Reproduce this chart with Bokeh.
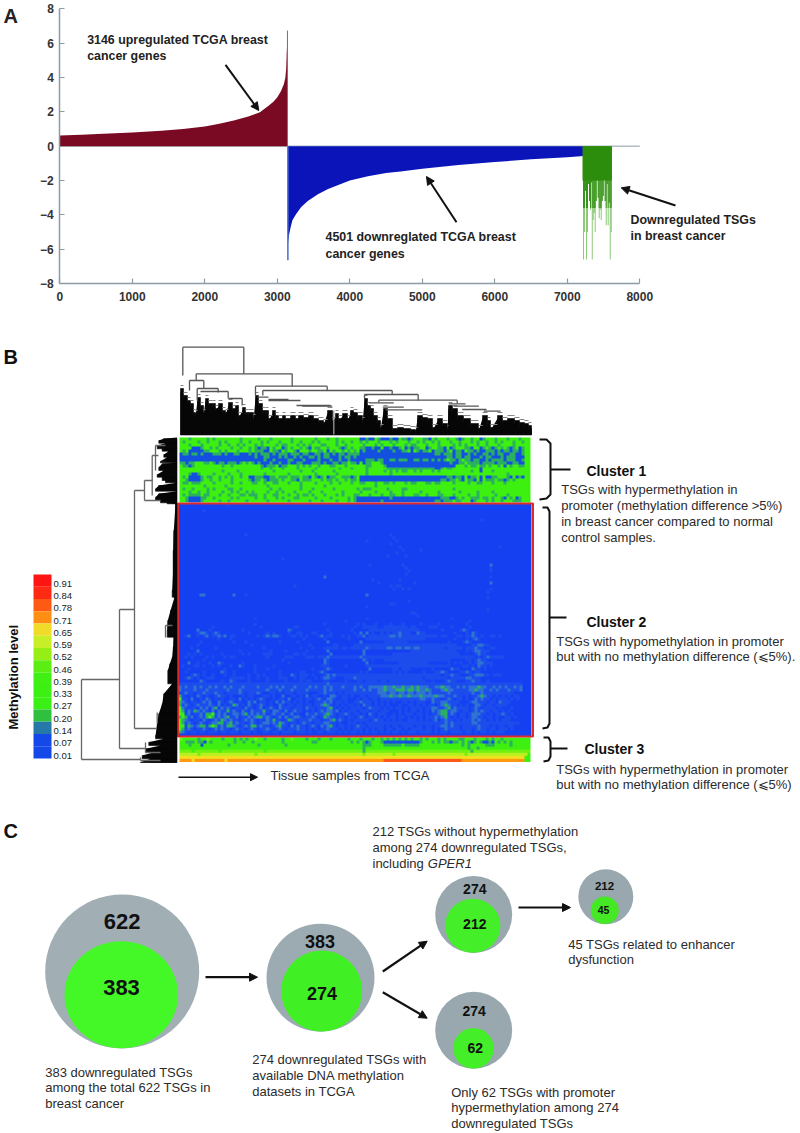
import numpy as np
from bokeh.core.properties import value
from bokeh.embed import file_html
from bokeh.layouts import column
from bokeh.models import Arrow, FixedTicker, LinearColorMapper, NormalHead, Range1d
from bokeh.plotting import figure
from bokeh.resources import INLINE

FONT = "Liberation Sans"
INK = "#2b2b2b"

# ---------- Panel A data ----------
x_ticks = [0, 1000, 2000, 3000, 4000, 5000, 6000, 7000, 8000]
y_ticks = [-8, -6, -4, -2, 0, 2, 4, 6, 8]
up_rank = [0, 300, 600, 1000, 1400, 1700, 2000, 2200, 2400, 2600, 2760, 2880, 2950, 3000, 3050, 3090, 3110, 3122, 3130, 3135, 3140]
up_value = [0.62, 0.67, 0.72, 0.80, 0.90, 1.0, 1.15, 1.30, 1.50, 1.72, 1.98, 2.35, 2.6, 2.85, 3.2, 3.6, 3.95, 4.5, 5.4, 5.9, 6.73]
down_rank = [3146, 3160, 3185, 3210, 3260, 3330, 3420, 3560, 3700, 3850, 4000, 4250, 4500, 4700, 5000, 5500, 6000, 6500, 7000, 7225]
down_value = [-5.7, -5.2, -4.7, -4.3, -3.95, -3.55, -3.2, -2.8, -2.5, -2.25, -2.0, -1.75, -1.57, -1.47, -1.32, -1.1, -0.93, -0.77, -0.64, -0.58]
tsg_rank = [7223, 7237, 7251, 7265, 7279, 7292, 7306, 7320, 7334, 7343, 7357, 7371, 7384, 7398, 7412, 7426, 7439, 7453, 7467, 7481, 7495, 7508, 7522, 7536, 7550, 7563, 7577, 7591, 7605]
tsg_value = [-6.6, -5.0, -2.6, -6.6, -5.0, -2.2, -3.2, -3.7, -2.1, -6.6, -4.3, -3.9, -5.0, -3.2, -2.0, -3.0, -4.2, -3.7, -4.3, -3.2, -2.9, -1.9, -3.2, -4.6, -2.2, -4.6, -3.3, -6.6, -5.0]

# ---------- Panel B data ----------
legend_levels = ["0.91", "0.84", "0.78", "0.71", "0.65", "0.59", "0.52", "0.46", "0.39", "0.33", "0.27", "0.20", "0.14", "0.07", "0.01"]
legend_colors = ["#ff1414", "#ff2a14", "#ff5a14", "#ff8f14", "#f0dc28", "#c8ee28", "#96ee14", "#5cee14", "#40f014", "#3cf014", "#3af014", "#30c040", "#2678a8", "#1448e8", "#1448e8"]

heat_symbols = ".,stbgly Yor"
heat_colors = ["#1440f2", "#1c4cec", "#2f74d0", "#2ab060", "#1450e0", "#3ef010", "#72f010", "#b8f020", "#3ef010", "#f0e020", "#ff9a10", "#ff5818"]

cluster1 = [
"gggtgggggtgtggggggggtgggggtgggtggggggtgggggggtgggtggtgggggggbbtbbgtbbbtbbgttbtgggttbgtgggtggtbtggtggbtgggtgggtgggtg",
"gtggggtggtgggtgtggggtggtgggtgtgggtgggtggtgggtgtgggggtgtggtggtgtgggtgggtgtgggtggtgtggtgtgggtggtgggtgtggtggtgtgggtggt",
"gggtgggtgggggtggtggtgtgggtgtggggtgttgggtgtgtgggttgggtggtgggggtgggtgtgggtgggtgttgggtgggtggggtgtgtgggtggtgggtggggtgg",
"ggggbbbtggtgtggggtggtggtgtbttbgtggbtgtggtgtbgttggtgggtbtgtggttbbtbbgbbtbbtgbtbttggbtggttbgbtgggttbggbtgtbtgtgtbtgbt",
"gtgbbbbbttgggtgtgggtgggtgtttbbgttbgtggtbgggtggttgbgtggtgtgtgbtbbbbtbbbbtbbttgbgtbttgbtttbtgbttbgttbtbbtttbtbttbttbt",
"bttbttbtbbbtttbtbbttbbbtbtbtttbtbtttbtttbttbbttbttbtbttbttttbbbbbbbbbbbbbbbbbbbbbbbbbttbtttbttbbtbtbbttbtbttbbttbbt",
"bbbbbbbbbbbbbbbbbbbbbbbbbtbbttbbbtbtbbtbtbbttbtbttbbbtbttbtbbbbbbbbbbbbbbbbbbbbbbbbbbbbbbttbttbttbbbtbttbbbtbtttbbb",
"bbbbbbbbbbbbbbbbbbbbbbbbbbbbtbbtbbbbttbbbtbbbbtbbbtbbtbbtbbbbbtttbttbbttbtttbbttbttbtbtbtgttbtgttbttbbtbttttbtttbbt",
"ttbttgggttgtbttbtttbtgtgtbtbbbtbbtbbtbbttbbbtttbtbbttbttgttbgbttgggtbbbbbbbbbbbbbbbbbbbbbbtbbttgttttbttttbtttbbttbb",
"gttbtgggggggggtggtgggggggggtbtttgbttgggtgtgtggtgggttgggtggggggttggggtbbbbbbbbbbbbbbbbbbbbbbbgggtgttgttgtggtgbgtggtt",
"gggggggggggggggggggggggggggtggtgggtggggtgggggtgggggggtgggtggggtggggggttttttttttttttttbbtgttgggggggggbgggggggggggggg",
"ggggggggggggggtggggtgggggggggggtggggggggtgggtggggggtggggggggggtgggggtgtgtgttggtgtgggtgtggggggggggtggbgggtgggggggggg",
"gggtbbtggggtggggtgggtgggggggtgggggggtggggggggtggggggtgggggggggtgggggggtggggggggggggggggggggggggggggggggggggggtggggg",
"gtgbbbbtgttggtgtgtggtggbbtttbbttgtttgtttgttbgtbtgbttggtttbtgbbbbbbbbbbbbbbbbbbbbbbbbbbbbbttbttbgbttgbgbbttgggtbgbtbg",
"ggtbbbbtggtggtgggtgggggtbttgtbtttgtggttbgtttgggtgttgtggtgttgbbbbbbbbbbbbbbbbbbbbbbbbbbbttbttgtbgttbgbgtttgttbtgtggg",
"gttgtttggggtgggggtggtgggttggtggttgggtgggtggggtggggtggtgggtggttgggtggttgtgggtgttgggttgttggggtggggtggttgggtgggtgggggg",
"ggggggggtggggggtgggggggggggggtggggggggggtgggggggtggggggggggggggggtggggggggggggggggggggggggggggggggggggggggggggggggg",
"gtggtggggtgtggggttggtgggggggggtggtggggggtgggtggggggtgggggggtgtttgggggtggggttgggggggggggggggtgggggggggggggggggggggg",
"gggtggtggtggggtggtgtggtgtggggtggtgtgggtggggtgggtggggggtgggggtggggtggggtgggtgggggtgggggtggggggtgggggtggggtggggggggg",
"gtgttttgttgggtggtgggttgtttggtggttgggtggtgttgtgggtgggtgtgggttgggtgggtggttggtgggttggtgggttgggtggggtggtgggggtgggtgggg",
"ggtbbbbttggtgggggtgtgggggtggtgggtgtgggttgggggtggggtgggggtgtbbbbbbbbbbbtbbbbbbbbbbbbbbbbtttbbtgtggtttgttgtggtbgtgbtg",
"ggtbbbbtgggggtggtgggggtggggggtggggggtggggggtgggtggggtgggtgtbbbbbbbbtbbbbbbbbbbbbbbbbbttbtttgttgggbtgggtgtggtgggtttg",
]

cluster2_specks = [
(0, 16, ","), (2, 8, ","), (5, 100, ","), (10, 22, ","), (12, 62, ","), (14, 106, ","), (18, 34, ","), (20, 63, ","),
(21, 103, ","), (24, 48, "s"), (27, 38, ","), (28, 103, ","), (29, 102, ","), (30, 7, "s"), (30, 8, "s"), (30, 18, "s"),
(30, 22, ","), (30, 62, "s"), (31, 102, ","), (32, 76, ","), (33, 70, ","), (33, 71, ","), (34, 62, ","), (35, 102, ","),
(36, 77, ","), (36, 78, ","), (37, 79, ","), (38, 25, ","), (38, 62, ","), (38, 90, ","), (39, 55, ","), (39, 96, ","),
(10, 70, ","), (11, 71, ","), (12, 72, ","), (13, 70, ","), (14, 73, ","), (15, 74, ","), (15, 80, ","), (16, 72, ","),
(17, 69, ","), (17, 75, ","), (20, 74, ","), (21, 75, ","), (22, 76, ","), (23, 75, ","), (25, 73, ","), (26, 78, ","),
(25, 64, ","), (26, 66, ","), (27, 70, ","), (27, 72, ","), (27, 73, ","), (28, 71, ","), (28, 74, ","), (28, 76, ","),
(20, 103, "s"), (22, 103, ","), (24, 103, ","), (26, 103, "s"),
]
cluster2_rows = {
40: ".........................,......................,..........,.,...,....,...,.....,.....,........,.....",
41: "...........,...............,..........,,..................,..,,,,,..,,,,,,,,.,,....,,,....,.....,.....",
42: "......s...,..........,..............s,...........,.......,.....,,,,,,,,,,,,,,,,,.......,.....,s,......",
43: "......,ss,.,s,.........,.....,.,....,..,,...,,....,.......,.s.s.,..,.,.,,s,,,..s,,.........,...,.s,.....",
44: "..,s..,.,s.,,s,s.,,.......,.,s,ss,...,,.,.,...,s.,,...,.,..,,s.,,,,,,,ss,s,,,,,,,,,,,,.,,...,,.,,s,.,..,,.,",
45: ".............,...,.......................,......,.......,.....,,,,,,,,,,,,,,,,,,,,.........,...,.,s,.....",
46: ".......,..........,...,..........,.....,.........s..........s.......,,,,,,,,.............,....,s,.......",
47: "......,.................,..................,.......,,.....,,,,,,,,,,,,,,,,,,,,,,,,,,,,,,,,,,.....,,ss,,..",
48: "....,.......,...............,...........,...,...,,,,,.,,.,,,,,s,,,,,,ss,ss,ss,ss,,,,,,,,.,,,,,.,,,s,,..,,",
49: "......s.............,.........,....,......,......s...........s...............,,,,,,,,,,,,,,,...,.,ss,,,.",
50: "...,.,.,......,......,.,....,,,.......,,.,........s..........s.........,,,,,,,,,,,,,,,,,,,,,,.....,s,,...",
51: "..,.,....,.,...,.,,..........,.....,,,....,,,.,,,s,,,,,,,,,,s,,,,,,,,,,,,,,,,,,,,,,,,,,,,,,,,,,,,,.,.,s,,,,,.",
52: "........,.........................,.............s,...........s,.,...,,,,,,,,,,,,,,,,,,,,,,.....,,.,s,,....",
53: "...s..,...,..s,......,..............,...........s,............s..........,,,,,,,,,,......,.,.,..,.,ss,,,..",
54: ".,...,,.,..,.,...,..s,...,.....,...............,,,.....,......,,,,,,,,,,,,,,,,,,,,,,,,,,,,....,,.,.s,,.,.",
55: "...,...........,.........,...,..............,...,s,............s.......,,.,,,.......,.....s,,....s,,.,...",
56: "..,.....,.....s,..,......,.......,......,,....,s,...........,.,........,.,.,.....,...,,s,....,,s,.,,....",
57: "....,s,.,..,...,..,....,..,.,....,...s,.,,,.,...,s,s,,,,,,,,,,,,,,,,,,,,,,,,,,,,,,,,,,,.,,s,,...,,sss,,.,,,.",
58: "..,s,.,..,,,.....,,,,,.,..,..,...,,,..,.,,...,.,ss,,...,,,s,,,,,,,,,,,,,,,,,,,,,,.,,,,,,,.,,,,,ss,,,.....",
59: ".......s,.....,..s,....,.....,.....,....,.,,....,,.....,...,,.,,,,.,,.,,,,,,,,,,,,..,...,s,,...,,s,,..,.",
60: ",,,,,,,,,,,,,,,,,,,,,,,,,,,,,,,,,,,,,,,,,,,,,,,,,s,,,,,,,,,,,,,,,,,,,,,,,,,,,,,,,,,,,,,,,,,,,,,,,,,,,,,,,,,,,,,,,,",
61: "s,s,,s,s,,s,s,,s,s,,,s,,,,s,,,s,s,s,,,s,,,,s,s,,s,s,,,s,,,s,s,,ssssstsstsstsststsss,,sstss,,s,s,ssstss,,s,s,s,,s,s",
62: "s,,,,s,,,s,,,,,,s,,,s,,,,,,,,s,,,s,,,s,,,,s,,,,,s,s,,,,,,,s,,s,s,,sstssstttsttstssts,,,stss,,,,,sstss,,s,s,,,s,,,s",
63: ",,s,,.,,s,,,s,,.,,,,s,.,,,s,..,,.,.,,,.,,,,...,,s,,,.,.,,,,,,,,,,,sss,ss,ss,ss,sss,s,,,,,s,,,,,,,s,,s,,,,,,,,,,.",
64: "t,..,.s,.,..,s,,.,...,.,,...,,.,..s..,,.,.s.,,..,.ss,.,,.,..,,.,,,,ssstsstsstssstsssstss,,,s,,.,.,,sts,,.,.,.,.,,",
65: "g,,.s..,.s,.,.,..,,.s.,.,.,s,..,.,,.s..,,.,,.,s,.ss,..,,...,.,,.,,.,,,,,,,,,,,,,ss,,s,,.,s,.,,.,..s,s,,.,.,,,.,.,",
66: "ts,.,,.,s,s..s,.,s,.,..s,s.,,.,.s.s,,.,.,.,..,,,s,s.,,.,..,,s,,,.,.,.,.,..,,.,.,,,..s,,ss,,,,...,ss,,,.,,.s,,,.",
67: "t,s,.,s,,,s,.s.,.,ts.,.s,.,s,.,..s,.,,.,,.,,.,,sts,.,.,.,,.,.s,,.,.,.,...,..,,.,.,.,,.,sts,,.,.,..ss,.,,.,,,,..",
68: "gs,.,,.s,s.st.s,s,.,,.s,,.,s.,s,.s,,,.,,,.s,,.,,,st,.,.,.,,,,.,s,,,.,.,.,,.,.,,,,.,,ss,,st,s,,,,.,s,.,,,,.,...,",
69: "gt.s,ts,s,.s.s,,t,s,.s,.s,,,t,.ss,.s.,s,,.,.,.,s,ss,s.,.,,,.,,,.,,.,,,...,.,.,,.,.,.s,stt,ss,.,,.,s,s,,.,,.,.,.",
70: "gg,s.,,s,ttg,s,s.,ss,st,s,s,s.,s,,s.,s.,..s,,s,,sts,.,,s,.,,.,.s,.,,,..,.,.,,,.,,.,.,,stt,s,.,,.,sss,,.,.,,s,.,.",
71: "tgt,s.,s,tgt,s,st,,s.,,s,stt,s,.,s.s,,ss,.,,s,.,ts,,.,,.,,.,s,.,,.,.,.,,.,,.,.,.,.,,,s,st,.,.,,.,ss,,.,,.,..,,.,",
72: "gts,.,,.s,.,s,ts,s,,.,s,s,.,.s,t,,.,ts,.,,,s,,,.,,st,s,.,.,,,,,.,s,,.,.,.,..,,,.,.,.,s.,s,,.,.,,,s,s,,.,.,.,,,.",
73: "gt,s,.,s,.,sstt,st,s,,.,s,.,ss,s,ts,.,,.,s,,.,,,ss,,.,..,,,.,.,,,,,,,,,,,,,,,,,,,,,,,,,,s,s,,,,,,ss,,,,,,,,,,,,,,",
74: "gg,ts,stt,tgt,s,tts,.,s,tt,s,,.,st,,.s,s,,.,s,.s,st,.,,.,.,s,,.,,,,,.,.,,.,,,,.,,.,,.,,ss,s,,.,,,,,s,,,.,.,,.,,.",
75: "gt,s,.,,s,.,s,s,,.,s,,.,s,.,,s,.,s,.,,,s,,.,.,.,,s,,,.,.,.,,,.,.,.,,.,,.,,.,.,,,,.,,.,.,s,,,,.,,,.,s,,.,,.,,,.,",
76: "ts,.,,.,,.,,,.,,.,,,.,,,.,..,,.,,.,,,,.,,,.,..,,.,,,.,.,.,,.,.,.,,.,.,.,,.,.,,,.,,,,.,.,,.,,,,.,,.,.,,.,.,,,.",
}
cluster3 = [
"lgggggtgglggggtgggtgtgtgglggtgggggtgglggggtgggtgggtgggggtgggtgggtggtgtgtgtgtgtggtgtgggtgtggggttgggtgggtgtggtgggggg",
"ggtttgttbgtgggggggtggtggtgggggggggtgggggggggttgggggggggggtgtgtbtgggtbbbbbbbbbbbbtgggtgtgttbttgtgtbtgtbbtbgtgtgtgggg",
"gggtgggbggggggggtgggggggggtggggggggtgggggggggggggggggggggggggtttggggttttttgtttttggggggggggggggtgtgggggtttgggggtggggg",
"gggggggggggggggggggggggggggggggggggggggggggggggggggggggggggggtggggggggggggggggggggggggggggggggggtggtggggggggggggggggg",
"llllgllllllllgllllllllllllllglllllllllllllllllllllllllllllllltllllllllllllllllllllllllllllllllllltlllllllllllllllllll",
"yyyyyylyyyyyyyyyyyyyyyyyylyyyyyyyyyyyyyyyyyyyyyyyyyyyyyyyyyyylyyyyyyyyylyyyyyyyyyyyyyyyyyyyyyyylyyyyyyyyyyyyyyyyyyyy",
"YYYYYYYYYYYYYYYYYYYYYYYYYYYYYYYYYYYYYYYYYYYYYYYYYYYYYYYYYYYYYYYYYYYYYYYYYYYYYYYYYYYYYYYYYYYYYYYYYYYYYYYYYYYYYYYYYYY",
"ooooYooooooooooYoooooooooooooooooooooooooooooooooooooooooooooooooooorrrrrrrrrrrrrrrrrrrrrrrrrrooooooooooooooooooooo",
]

top_env_x = [180, 183, 187, 190, 193, 195, 197, 200, 203, 205, 208, 212, 215, 218, 222, 225, 228, 232, 235, 238, 242, 245, 248, 253, 255, 258, 262, 265, 268, 272, 275, 278, 282, 285, 290, 295, 298, 303, 308, 313, 318, 323, 327, 332, 335, 338, 342, 347, 350, 353, 357, 362, 364, 367, 370, 373, 377, 380, 383, 387, 392, 397, 403, 410, 415, 417, 422, 427, 432, 437, 442, 447, 448, 452, 457, 463, 470, 478, 482, 487, 490, 497, 502, 507, 514, 519, 524, 528, 531]
top_env_y = [388, 395, 400, 403, 412, 413, 397, 405, 412, 398, 403, 403, 408, 403, 410, 412, 402, 408, 405, 415, 407, 412, 412, 417, 395, 403, 410, 410, 418, 410, 415, 418, 415, 418, 415, 418, 415, 417, 415, 418, 420, 422, 410, 420, 413, 418, 413, 418, 410, 412, 415, 420, 398, 405, 408, 415, 420, 427, 408, 418, 428, 427, 428, 429, 430, 415, 417, 418, 427, 418, 423, 428, 405, 408, 415, 418, 423, 428, 415, 420, 427, 415, 420, 418, 420, 422, 423, 425, 428]
top_x0 = [182.3, 182.3, 243.3, 195.7, 195.7, 291.7, 189, 189, 203.3, 196.7, 196.7, 217.7, 200, 227.7, 228, 241.7, 255, 255, 326.7, 262.3, 262.3, 391.7, 364, 364, 417.7, 257, 268, 268, 296, 301.7, 378.3, 378.3, 456.7, 369, 382.3, 385, 448.3, 453, 461.7, 483.3]
top_y0 = [346.7, 346.7, 346.7, 373.3, 373.3, 373.3, 380, 380, 380, 388, 388, 388, 391, 391, 398, 398, 385.7, 385.7, 385.7, 390, 390, 390, 394, 394, 394, 396.7, 399, 400, 405, 405.7, 399.7, 399.7, 399.7, 402.3, 406.7, 409.3, 403.3, 405.7, 409, 410.7]
top_x1 = [243.3, 182.3, 243.3, 291.7, 195.7, 291.7, 203.3, 189, 203.3, 217.7, 196.7, 217.7, 227.7, 227.7, 241.7, 241.7, 326.7, 255, 326.7, 391.7, 262.3, 391.7, 417.7, 364, 417.7, 268, 288, 300, 330, 331.7, 456.7, 378.3, 456.7, 393.3, 403.3, 421.7, 465, 478.3, 486, 500]
top_y1 = [346.7, 375, 373.3, 373.3, 380, 385.7, 380, 390, 388, 388, 400, 392, 391, 398, 398, 405, 385.7, 396, 390, 390, 395, 394, 394, 398, 400, 396.7, 399, 400, 405, 405.7, 399.7, 402, 403, 402.3, 406.7, 409.3, 403.3, 405.7, 409, 410.7]

left_env_y = [438.3, 440, 442.7, 445, 448.3, 450.7, 454, 456.7, 460.7, 462.3, 463.3, 466.7, 470, 474, 476.7, 480, 482.3, 485, 488.3, 490.7, 493.3, 496.7, 500, 502.3, 503.3, 530, 550, 570, 590, 596.7, 610, 620, 630, 636.7, 646.7, 656.7, 663.3, 670, 683.3, 693.3, 703.3, 713.3, 723.3, 735, 738.3, 741.7, 745, 748.3, 751.7, 755, 758.3, 761.7]
left_env_x = [163, 158.3, 165, 156.7, 161.7, 168.3, 163.3, 166.7, 160, 176, 161.7, 158.3, 163.3, 156.7, 161.7, 165, 176, 158.3, 155, 176, 158.3, 155, 160, 166.7, 175, 173.3, 172.7, 172.7, 171.7, 174, 170, 167.3, 166.7, 173.3, 172.7, 171.7, 169.3, 167.3, 171.7, 163.3, 161.7, 158.3, 156.7, 155, 163.3, 148.3, 160, 145, 153.3, 141.7, 150, 140]
left_x0 = [81, 81, 81, 119, 119, 119, 134, 134, 134, 144, 144, 144, 151.7, 151.7, 155, 155, 165, 165, 156.7, 145, 145, 140, 140]
left_y0 = [679, 679, 759, 609, 609, 748, 490, 490, 728, 480, 480, 500, 455, 455, 445, 445, 625, 625, 712, 742, 752, 757, 760]
left_x1 = [81, 119, 140, 119, 134, 145, 134, 144, 156, 144, 152, 160, 151.7, 158, 155, 165, 165, 172, 156.7, 145, 160, 140, 160]
left_y1 = [759, 679, 759, 748, 609, 748, 728, 490, 728, 500, 480, 500, 495, 455, 470, 445, 637, 625, 723, 752, 752, 760, 760]

# ---------- Panel C data ----------
outer_counts = [622, 383, 274, 274, 212]
inner_counts = [383, 274, 212, 62, 45]

# Source-figure pixel geometry
PAGE_W = 800
PAGE_H = 1133
SPLIT_AB, SPLIT_BC = 310, 800
A_L, A_R, A_T, A_B = 59.3, 639.3, 8.3, 283.0


def ax(px):
    return (px - A_L) / (A_R - A_L) * 8000


def ay(py):
    return 8 - (py - A_T) / (A_B - A_T) * 16


def arrow(fig, x0, y0, x1, y1, size=8, width=2.0):
    fig.add_layout(Arrow(end=NormalHead(size=size, fill_color="#111111", line_color="#111111"),
                         x_start=x0, y_start=y0, x_end=x1, y_end=y1,
                         line_color="#111111", line_width=width))


def blank(top, bottom):
    f = figure(width=PAGE_W, height=int(bottom - top), x_range=Range1d(0, PAGE_W), y_range=Range1d(-bottom, -top),
               output_backend="svg", toolbar_location=None, min_border=0, frame_align=False)
    f.axis.visible = False
    f.grid.visible = False
    f.outline_line_color = None
    return f


def write(fig, x, y, s, size=13, bold=False, italic=False, color=INK, align="left", angle=0):
    style = "bold" if bold else ("italic" if italic else "normal")
    fig.text(x=[x], y=[-y], text=[s], text_font=value(FONT), text_font_size=f"{size}px", text_font_style=style,
             text_color=color, text_align=align, text_baseline="middle", angle=angle)


# ========== Panel A ==========
pa = figure(width=PAGE_W, height=SPLIT_AB,
            x_range=Range1d(ax(0), ax(PAGE_W)), y_range=Range1d(ay(SPLIT_AB), ay(0)),
            output_backend="svg", toolbar_location=None, min_border=0, frame_align=False)
pa.grid.visible = False
pa.outline_line_color = None
pa.xaxis.ticker = FixedTicker(ticks=x_ticks)
pa.yaxis.ticker = FixedTicker(ticks=y_ticks)
pa.xaxis.fixed_location = -8
pa.yaxis.fixed_location = 0
pa.xaxis.bounds = (0, 8000)
pa.yaxis.bounds = (-8, 8)
for axis in (pa.xaxis[0], pa.yaxis[0]):
    axis.axis_line_color = "#8b9ca6"
    axis.axis_line_width = 1.5
    axis.major_tick_line_color = "#8b9ca6"
    axis.major_tick_line_width = 1.2
    axis.major_tick_in = 5
    axis.major_tick_out = 0
    axis.minor_tick_line_color = None
    axis.major_label_text_font = FONT
    axis.major_label_text_font_size = "12px"
    axis.major_label_text_font_style = "bold"
    axis.major_label_text_color = "#333333"
pa.xaxis.major_label_standoff = 8
pa.yaxis.major_label_standoff = 6

pa.segment(x0=[0], y0=[0], x1=[8000], y1=[0], line_color="#8b9ca6", line_width=1)
pa.varea(x=up_rank, y1=[0] * len(up_rank), y2=up_value, fill_color="#7a0a24")
pa.varea(x=down_rank, y1=[0] * len(down_rank), y2=down_value, fill_color="#0a14b8")
pa.segment(x0=[up_rank[-1]], y0=[0], x1=[up_rank[-1]], y1=[up_value[-1]], line_color="#a05a70", line_width=1)
pa.segment(x0=[down_rank[0]], y0=[0], x1=[down_rank[0]], y1=[-6.65], line_color="#4a6cc8", line_width=1.5)
pa.vbar(x=tsg_rank, top=0, bottom=tsg_value, width=9, fill_color="#4fae30", line_color=None)
pa.vbar(x=tsg_rank, top=0, bottom=np.maximum(tsg_value, -3.6).tolist(), width=12, fill_color="#2c8c0c", line_color=None)
pa.quad(left=[7210], right=[7615], top=[0], bottom=[-2.0], fill_color="#2c8c0c", line_color=None)

for px, py, s, size in [
    (3, 15.7, "A", 20),
    (86.7, 39, "3146 upregulated TCGA breast", 12.4),
    (86.7, 55, "cancer genes", 12.4),
    (325, 236.7, "4501 downreglated TCGA breast", 12.4),
    (325, 253, "cancer genes", 12.4),
    (630, 219.3, "Downregulated TSGs", 12.4),
    (630, 235, "in breast cancer", 12.4),
]:
    pa.text(x=[ax(px)], y=[ay(py)], text=[s], text_font=value(FONT), text_font_size=f"{size}px", text_font_style="bold",
            text_color="#222222", text_baseline="middle", text_align="left")
arrow(pa, ax(225), ay(64.3), ax(258.3), ay(110))
arrow(pa, ax(456), ay(221.7), ax(426), ay(176))
arrow(pa, ax(675), ay(205), ax(620.7), ay(187.3))

# ========== Panel B ==========
pb = blank(SPLIT_AB, SPLIT_BC)
write(pb, 3, 356.7, "B", size=20, bold=True, color="#111111")

# legend
legend_top = 574.0
swatch = 184.0 / len(legend_levels)
pb.quad(left=[33] * 15, right=[51] * 15,
        top=[-(legend_top + i * swatch) for i in range(15)],
        bottom=[-(legend_top + (i + 1) * swatch) for i in range(15)],
        fill_color=legend_colors, line_color=None)
for i, lab in enumerate(legend_levels):
    write(pb, 53, 583.3 + i * 36.8 / 3, lab, size=9.5, color="#222222")
write(pb, 13, 676.7, "Methylation level", size=13, bold=True, color="#111111", align="center", angle=np.pi / 2)

# heat map
NCOL = 117


def to_row(s, fill):
    s = (s + fill * NCOL)[:NCOL]
    return [heat_symbols.index(ch) for ch in s]


mapper = LinearColorMapper(palette=heat_colors, low=0, high=len(heat_colors))
c1 = np.array([to_row(r, "g") for r in cluster1], dtype=float) + 0.5
c2 = np.zeros((78, NCOL)) + 0.5
for r, s in cluster2_rows.items():
    c2[r] = np.array(to_row(s, ".")) + 0.5
for r, c, ch in cluster2_specks:
    c2[r, c] = heat_symbols.index(ch) + 0.5
c3 = np.array([to_row(r, "g") for r in cluster3], dtype=float) + 0.5
pb.image(image=[c1[::-1]], x=179, y=-502, dw=351, dh=65, color_mapper=mapper)
pb.image(image=[c2[::-1]], x=178, y=-736, dw=353, dh=233, color_mapper=mapper)
pb.image(image=[c3[::-1]], x=179, y=-761.5, dw=351, dh=24.5, color_mapper=mapper)
pb.quad(left=[177.5], right=[532.5], top=[-503], bottom=[-736], fill_color=None, line_color="#e02828", line_width=2)

# dendrograms: solid black mass below the leaf outline, with the tree's grey edges above it
top_next = top_env_x[1:] + [top_env_x[-1]]
pb.patch(x=[180] + top_env_x + [531], y=[-434.5] + [-(v + 3) for v in top_env_y] + [-434.5], fill_color="#060606", line_color=None)
pb.quad(left=top_env_x, right=top_next, top=[-v for v in top_env_y], bottom=[-434.5] * len(top_env_x),
        fill_color="#060606", line_color="#060606", line_width=0.6)
pb.segment(x0=top_env_x, y0=[-(v - 3) for v in top_env_y], x1=top_next, y1=[-(v - 3) for v in top_env_y],
           line_color="#888888", line_width=1)
pb.segment(x0=top_x0, y0=[-v for v in top_y0], x1=top_x1, y1=[-v for v in top_y1], line_color="#555555", line_width=1.3)
pb.segment(x0=[333.3], y0=[-410], x1=[333.3], y1=[-434], line_color="#999999", line_width=1.3)
left_next = left_env_y[1:] + [762]
pb.patch(x=[176.5] + left_env_x + [176.5], y=[-437] + [-v for v in left_env_y] + [-762], fill_color="#060606", line_color=None)
pb.quad(left=left_env_x, right=[176.5] * len(left_env_x), top=[-v for v in left_env_y], bottom=[-v for v in left_next],
        fill_color="#060606", line_color="#060606", line_width=0.6)
pb.segment(x0=left_x0, y0=[-v for v in left_y0], x1=left_x1, y1=[-v for v in left_y1], line_color="#666666", line_width=1.3)

# brackets
pb.multi_line(
    xs=[[539, 546, 550, 550, 546, 539], [550, 570], [542, 547, 549, 549, 547, 542], [549, 566], [543, 548, 550, 550, 548, 543], [550, 567]],
    ys=[[-439, -439, -443, -494, -498, -499], [-469, -469], [-507, -507, -511, -723, -727, -728], [-617, -617], [-737, -737, -741, -756, -760, -761], [-748, -748]],
    line_color="#111111", line_width=2)
for x, y, s in [(586, 470.7, "Cluster 1"), (586, 621, "Cluster 2"), (584, 748, "Cluster 3")]:
    write(pb, x, y, s, size=14, bold=True, color="#111111")
for x, y, s in [
    (560.7, 489.3, "TSGs with hypermethylation in"),
    (560.7, 505.3, "promoter (methylation difference >5%)"),
    (560.7, 520.7, "in breast cancer compared to normal"),
    (560.7, 536.7, "control samples."),
    (555.7, 640.7, "TSGs with hypomethylation in promoter"),
    (555.7, 656, "but with no methylation difference (\u2a7d5%)."),
    (555.7, 769, "TSGs with hypermethylation in promoter"),
    (555.7, 784.3, "but with no methylation difference (\u2a7d5%)"),
]:
    write(pb, x, y, s)
write(pb, 270, 775, "Tissue samples from TCGA")
arrow(pb, 178, -776.7, 257, -776.7, size=7, width=1.6)

# ========== Panel C ==========
pc = blank(SPLIT_BC, PAGE_H)
write(pc, 3, 830.7, "C", size=20, bold=True, color="#111111")

outer_x = [121.7, 320, 473.2, 473.2, 605.3]
outer_y = [971, 977.2, 914, 1029.8, 896.3]
outer_r = [77, 54, 38.5, 38.5, 27.5]
inner_x = [120.8, 321.2, 472.3, 473, 604.2]
inner_y = [994.2, 990.5, 925.3, 1047.8, 909.7]
inner_w = [113.6, 81, 55.4, 40.6, 28]
inner_h = [107, 81, 54, 40.6, 27.5]
outer_label_y = [920.7, 940.5, 888, 1010, 885]
inner_label_y = [987, 992.7, 923, 1047, 909]
outer_label_x = [121.7, 319.5, 474.3, 473.7, 604]
inner_label_x = [121, 321.5, 474.3, 474.7, 603]
label_size = [22, 18, 14, 14, 11.5]
inner_size = [22, 18, 14, 14, 10.5]
outer_color = ["#a1afb5", "#9babb1", "#98a8ae", "#98a8ae", "#98a8ae"]
inner_color = ["#44f828", "#40f024", "#44ee28", "#44ee28", "#44e824"]
pc.circle(x=outer_x, y=[-v for v in outer_y], radius=outer_r, fill_color=outer_color, line_color=None)
pc.ellipse(x=inner_x, y=[-v for v in inner_y], width=inner_w, height=inner_h, fill_color=inner_color, line_color=None)
for i in range(5):
    write(pc, outer_label_x[i], outer_label_y[i], str(outer_counts[i]), size=label_size[i], bold=True, color="#111111", align="center")
    write(pc, inner_label_x[i], inner_label_y[i], str(inner_counts[i]), size=inner_size[i], bold=True, color="#111111", align="center")

arrow(pc, 205, -976.7, 257, -976.7, width=2.2)
arrow(pc, 382.3, -971, 426.7, -940.7, width=2.2)
arrow(pc, 382.3, -991.7, 426.7, -1017.7, width=2.2)
arrow(pc, 518, -907, 570, -907, width=2.2)

for x, y, s in [
    (44.7, 1071.7, "383 downregulated TSGs"),
    (44.7, 1087.3, "among the total 622 TSGs in"),
    (44.7, 1103, "breast cancer"),
    (251.7, 1059, "274 downregulated TSGs with"),
    (251.7, 1075, "available DNA methylation"),
    (251.7, 1090.7, "datasets in TCGA"),
    (450.7, 1091.7, "Only 62 TSGs with promoter"),
    (450.7, 1107.3, "hypermethylation among 274"),
    (450.7, 1123, "downregulated TSGs"),
    (567.7, 943.7, "45 TSGs related to enhancer"),
    (567.7, 959.3, "dysfunction"),
    (372, 831, "212 TSGs without hypermethylation"),
    (372, 847, "among 274 downregulated TSGs,"),
    (372, 863, "including"),
]:
    write(pc, x, y, s)
write(pc, 427.3, 863, "GPER1", italic=True)

page = column(pa, pb, pc, spacing=0)
open("out.html", "w").write(file_html(page, INLINE))
